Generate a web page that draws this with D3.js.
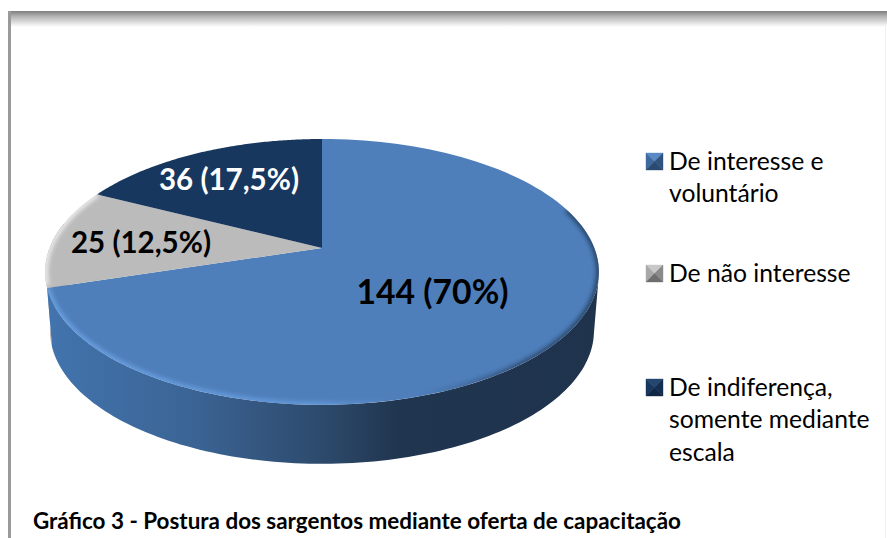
<!DOCTYPE html>
<html><head><meta charset="utf-8">
<script src="https://cdn.jsdelivr.net/npm/d3@7"></script>
<style>html,body{margin:0;padding:0;background:#fff}svg{display:block}text{font-family:Lato,"Open Sans",sans-serif}</style>
</head><body><svg id="c" width="887" height="538"></svg>
<script>
const categories = ["De interesse e voluntário", "De não interesse", "De indiferença, somente mediante escala"];
const legendLines = [["De interesse e", "voluntário"], ["De não interesse"], ["De indiferença,", "somente mediante", "escala"]];
const counts = [144, 25, 36];
const labels = ["144 (70%)", "25 (12,5%)", "36 (17,5%)"];
const sliceColors = ["#4F7FBB", "#BBBBBB", "#17375E"];
const labelColors = ["#000", "#000", "#fff"];
const caption = "Gráfico 3 - Postura dos sargentos mediante oferta de capacitação";

const svg = d3.select("#c");
const defs = svg.append("defs");
const cx = 322, apexY = 248, rx0 = 272.4, b = 128.6, k = 0.18, depth = 59, shrink = 0.982;

// disc angle (clockwise from back) -> screen point, with perspective
const project = a => {
  const u = Math.sin(a), v = Math.cos(a), w = 1 + k * v;
  return [cx + rx0 * u / w, apexY - b * v / w];
};
const dropped = p => [cx + (p[0] - cx) * shrink, p[1] + depth];
const line = d3.line();
const arcs = d3.pie().sort(null).value(d => d)(counts);
const samples = (a0, a1, n = 120) => d3.range(0, n + 1).map(i => a0 + (a1 - a0) * i / n);
const rim = (a0, a1) => samples(a0, a1).map(project);
const facePath = line(rim(0, 2 * Math.PI)) + "Z";

// frame
const fg = defs.append("linearGradient").attr("id", "frameTop").attr("x1", 0).attr("x2", 0).attr("y1", 0).attr("y2", 1);
fg.append("stop").attr("offset", 0).attr("stop-color", "#7f7f7f");
fg.append("stop").attr("offset", 0.35).attr("stop-color", "#b5b5b5");
fg.append("stop").attr("offset", 1).attr("stop-color", "#ffffff");
svg.append("rect").attr("x", 8).attr("y", 11).attr("width", 879).attr("height", 16).attr("fill", "url(#frameTop)");
svg.append("rect").attr("x", 8).attr("y", 11).attr("width", 3).attr("height", 527).attr("fill", "#9a9a9a");
svg.append("rect").attr("x", 885).attr("y", 24).attr("width", 1).attr("height", 514).attr("fill", "#f0f0f0");

// side walls
const sideGrad = (id, stops) => {
  const g = defs.append("linearGradient").attr("id", id).attr("gradientUnits", "userSpaceOnUse")
    .attr("x1", 45).attr("x2", 599).attr("y1", 0).attr("y2", 0);
  stops.forEach(([o, c]) => g.append("stop").attr("offset", o).attr("stop-color", c));
};
sideGrad("side", [[0, "#4274AE"], [0.27, "#3B6494"], [0.5, "#2D4A6C"], [0.64, "#20354F"], [1, "#1F334D"]]);
const wall = (a0, a1) => {
  const top = rim(a0, a1);
  return line(top.concat(top.map(dropped).reverse())) + "Z";
};
const rightA = Math.PI * 0.5 + 0.2, blueEnd = arcs[0].endAngle, leftA = 1.5 * Math.PI + 0.2;
const grayWall = defs.append("linearGradient").attr("id", "grayWall").attr("gradientUnits", "userSpaceOnUse")
  .attr("x1", 45).attr("x2", 54).attr("y1", 0).attr("y2", 0);
grayWall.append("stop").attr("offset", 0).attr("stop-color", "#d6d6d6");
grayWall.append("stop").attr("offset", 1).attr("stop-color", "#8f8f8f");
svg.append("path").attr("d", wall(blueEnd, leftA)).attr("fill", "url(#grayWall)");
svg.append("path").attr("d", wall(rightA, blueEnd)).attr("fill", "url(#side)");

// top face slices
const blur = defs.append("filter").attr("id", "soft").attr("x", "-10%").attr("y", "-10%").attr("width", "120%").attr("height", "120%");
blur.append("feGaussianBlur").attr("stdDeviation", 2.2);
defs.append("clipPath").attr("id", "faceClip").append("path").attr("d", facePath);
defs.append("clipPath").attr("id", "blueClip").append("path")
  .attr("d", line([[cx, apexY]].concat(rim(arcs[0].startAngle, arcs[0].endAngle))) + "Z");

const slicePath = d => line([[cx, apexY]].concat(rim(d.startAngle, d.endAngle))) + "Z";
svg.append("g").selectAll("path").data(arcs).join("path")
  .attr("d", slicePath).attr("fill", (d, i) => sliceColors[i]);

// bevel along the rim: bright on the lower left, shaded on the right
const bg = defs.append("linearGradient").attr("id", "bevel").attr("gradientUnits", "userSpaceOnUse")
  .attr("x1", 45).attr("x2", 599).attr("y1", 0).attr("y2", 0);
[[0, "#6EA6E8", 0.85], [0.5, "#6EA6E8", 0.6], [0.62, "#6EA6E8", 0], [0.68, "#1E334E", 0], [0.85, "#1E334E", 0.6], [1, "#1E334E", 0.75]]
  .forEach(([o, c, a]) => bg.append("stop").attr("offset", o).attr("stop-color", c).attr("stop-opacity", a));
svg.append("g").attr("clip-path", "url(#blueClip)").append("path")
  .attr("d", line(rim(1.25, blueEnd))).attr("fill", "none").attr("stroke", "url(#bevel)").attr("stroke-width", 6).attr("filter", "url(#soft)");
svg.append("g").attr("clip-path", "url(#faceClip)").append("path")
  .attr("d", line(rim(blueEnd + 0.02, arcs[1].endAngle))).attr("fill", "none").attr("stroke", "#fff").attr("stroke-opacity", 0.7).attr("stroke-width", 6).attr("filter", "url(#soft)");

// data labels
const labelPos = [[432.5, 304], [141, 253], [229, 190]];
const labelSize = [33.7, 29.5, 29.5];
svg.append("g").selectAll("text").data(labels).join("text")
  .attr("x", (d, i) => labelPos[i][0]).attr("y", (d, i) => labelPos[i][1])
  .attr("text-anchor", "middle").attr("font-size", (d, i) => labelSize[i]).attr("font-weight", 700)
  .attr("fill", (d, i) => labelColors[i]).text(d => d);

// legend
const swatchTones = [["#5A8AC6", "#3F6A9E", "#2A4A72", "#2F5480"], ["#C8C8C8", "#A8A8A8", "#6E6E6E", "#8A8A8A"], ["#24466F", "#17375E", "#0F2744", "#132E50"]];
const legendY = [153, 265, 379], sw = 17;
categories.forEach((cat, i) => {
  const g = svg.append("g").attr("transform", `translate(646,${legendY[i]})`);
  const m = [sw / 2, sw / 2];
  [[[0, 0], [sw, 0]], [[0, 0], [0, sw]], [[sw, 0], [sw, sw]], [[0, sw], [sw, sw]]].forEach((e, j) => {
    const c = swatchTones[i][[0, 1, 3, 2][j]];
    g.append("path").attr("d", line([e[0], e[1], m]) + "Z").attr("fill", c).attr("stroke", c).attr("stroke-width", 0.4);
  });
  const t = svg.append("text").attr("x", 669).attr("y", legendY[i] + 17).attr("font-size", 24.7).attr("fill", "#000");
  legendLines[i].forEach((s, j) => t.append("tspan").attr("x", 669).attr("dy", j ? 32.3 : 0).text(s));
});

// caption
svg.append("text").attr("x", 33).attr("y", 529).attr("font-size", 22.44).attr("font-weight", 700).attr("fill", "#000").text(caption);
</script></body></html>
